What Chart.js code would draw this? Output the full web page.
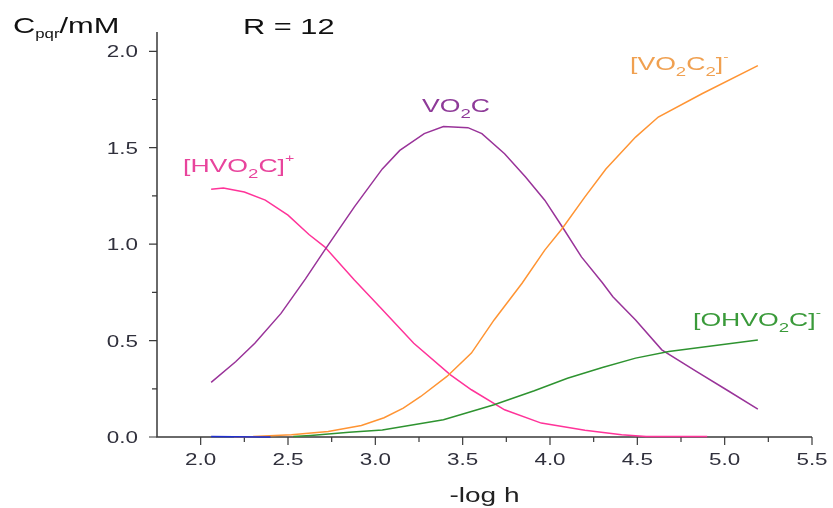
<!DOCTYPE html>
<html>
<head>
<meta charset="utf-8">
<script src="https://cdn.jsdelivr.net/npm/chart.js@4"></script>
<style>
  html, body { margin: 0; padding: 0; background: #fff; }
  #wrap { width: 833px; height: 508px; }
</style>
</head>
<body>
<div id="wrap"><canvas id="myChart" width="833" height="508"></canvas></div>
<script>
// species distribution (x = -log h, y = C / mM)
const hvoX = [2.06, 2.13, 2.25, 2.37, 2.5, 2.62, 2.71, 2.88, 3.03, 3.22, 3.43, 3.55, 3.74, 3.95, 4.2, 4.41, 4.55, 4.9];
const hvoY = [1.285, 1.291, 1.27, 1.228, 1.15, 1.05, 0.986, 0.814, 0.67, 0.486, 0.322, 0.245, 0.141, 0.072, 0.035, 0.012, 0.003, 0.002];

const vocX = [2.06, 2.2, 2.31, 2.46, 2.6, 2.71, 2.88, 3.04, 3.14, 3.28, 3.39, 3.53, 3.61, 3.74, 3.86, 3.97, 4.07, 4.18, 4.30, 4.36, 4.49, 4.64, 4.84, 5.01, 5.19];
const vocY = [0.283, 0.39, 0.486, 0.641, 0.82, 0.969, 1.193, 1.39, 1.486, 1.573, 1.61, 1.604, 1.573, 1.469, 1.348, 1.228, 1.09, 0.934, 0.80, 0.727, 0.607, 0.452, 0.339, 0.245, 0.145];

const voc2X = [2.19, 2.3, 2.52, 2.73, 2.92, 3.05, 3.16, 3.26, 3.41, 3.55, 3.68, 3.84, 3.97, 4.07, 4.2, 4.32, 4.49, 4.62, 4.87, 5.19];
const voc2Y = [0.001, 0.002, 0.012, 0.029, 0.06, 0.10, 0.15, 0.21, 0.314, 0.435, 0.607, 0.797, 0.969, 1.081, 1.245, 1.39, 1.555, 1.659, 1.78, 1.926];

const ohX = [2.53, 2.63, 2.85, 3.04, 3.39, 3.68, 3.91, 4.1, 4.3, 4.49, 4.68, 5.19];
const ohY = [0.002, 0.008, 0.025, 0.036, 0.089, 0.167, 0.240, 0.305, 0.36, 0.409, 0.443, 0.503];

const blueX = [2.06, 2.19, 2.4];
const blueY = [0.002, 0.001, 0.0];

const xTicks = [2.0, 2.5, 3.0, 3.5, 4.0, 4.5, 5.0, 5.5];
const xMinor = [2.25, 2.75, 3.25, 3.75, 4.25, 4.75, 5.25];
const yTicks = [0.0, 0.5, 1.0, 1.5, 2.0];
const yMinor = [0.25, 0.75, 1.25, 1.75];

const FONT = '"Liberation Sans", Arial, sans-serif';
const SX = 1.4; // the reference text is stretched sideways

function pts(xs, ys) {
    return xs.map((x, i) => ({ x: x, y: ys[i] }));
}

// draws text made of normal / sub ('b') / super ('p') pieces
function richText(ctx, parts, x, y, size, color, opts) {
    opts = opts || {};
    const small = opts.small || size * 0.7;
    const subDy = opts.subDy !== undefined ? opts.subDy : size * 0.32;
    const supDy = opts.supDy !== undefined ? opts.supDy : -size * 0.55;
    const fontOf = k => (k === 'n' ? size : (k === 'p' ? size * 0.6 : small)) + 'px ' + FONT;
    ctx.save();
    ctx.fillStyle = color;
    ctx.textBaseline = 'alphabetic';
    ctx.textAlign = 'left';
    let w = 0;
    parts.forEach(([t, k]) => { ctx.font = fontOf(k); w += ctx.measureText(t).width; });
    let cx = 0;
    if (opts.align === 'center') cx = -w / 2;
    if (opts.align === 'right') cx = -w;
    ctx.translate(x, y);
    ctx.scale(SX, 1);
    parts.forEach(([t, k]) => {
        ctx.font = fontOf(k);
        const dy = k === 'b' ? subDy : (k === 'p' ? supDy : 0);
        ctx.fillText(t, cx, dy);
        cx += ctx.measureText(t).width;
    });
    ctx.restore();
}

const axisPlugin = {
    id: 'axisPlugin',
    beforeDatasetsDraw(chart) {
        const ctx = chart.ctx;
        const a = chart.chartArea;
        const xs = chart.scales.x, ys = chart.scales.y;
        ctx.save();
        ctx.strokeStyle = '#3a3a3a';
        ctx.lineWidth = 1.5;
        ctx.beginPath();
        ctx.moveTo(a.left, a.top);
        ctx.lineTo(a.left, a.bottom);
        ctx.lineTo(a.right, a.bottom);
        ctx.stroke();
        ctx.lineWidth = 1.2;
        ctx.beginPath();
        xTicks.forEach(v => { const p = xs.getPixelForValue(v); ctx.moveTo(p, a.bottom); ctx.lineTo(p, a.bottom + 8); });
        xMinor.forEach(v => { const p = xs.getPixelForValue(v); ctx.moveTo(p, a.bottom); ctx.lineTo(p, a.bottom + 5); });
        yTicks.forEach(v => { const p = ys.getPixelForValue(v); ctx.moveTo(a.left, p); ctx.lineTo(a.left - 8, p); });
        yMinor.forEach(v => { const p = ys.getPixelForValue(v); ctx.moveTo(a.left, p); ctx.lineTo(a.left - 5, p); });
        ctx.stroke();
        ctx.restore();

        xTicks.forEach(v => richText(ctx, [[v.toFixed(1), 'n']], xs.getPixelForValue(v), 465, 16, '#30303c', { align: 'center' }));
        yTicks.forEach(v => richText(ctx, [[v.toFixed(1), 'n']], 138, ys.getPixelForValue(v) + 6, 16, '#30303c', { align: 'right' }));
        richText(ctx, [['-log h', 'n']], (a.left + a.right) / 2, 502, 20, '#222', { align: 'center' });
    },
    afterDraw(chart) {
        const ctx = chart.ctx;
        richText(ctx, [['C', 'n'], ['pqr', 'b'], ['/mM', 'n']], 13, 33, 22, '#111', { small: 12, subDy: 5 });
        richText(ctx, [['R = 12', 'n']], 243, 34, 22, '#111');
        richText(ctx, [['[HVO', 'n'], ['2', 'b'], ['C]', 'n'], ['+', 'p']], 183, 172, 19, '#e8449c');
        richText(ctx, [['VO', 'n'], ['2', 'b'], ['C', 'n']], 422, 112, 19, '#8e3a98');
        richText(ctx, [['[VO', 'n'], ['2', 'b'], ['C', 'n'], ['2', 'b'], [']', 'n'], ['-', 'p']], 630, 70, 19, '#f0a050');
        richText(ctx, [['[OHVO', 'n'], ['2', 'b'], ['C]', 'n'], ['-', 'p']], 693, 326, 19, '#3a9a3a');
    }
};

function line(data, color) {
    return {
        data: data,
        borderColor: color,
        borderWidth: 1.5,
        pointRadius: 0,
        tension: 0,
        fill: false,
        clip: false
    };
}

const ctx = document.getElementById('myChart').getContext('2d');
const myChart = new Chart(ctx, {
    type: 'line',
    data: {
        datasets: [
            line(pts(blueX, blueY), '#1f2fd0'),
            line(pts(voc2X, voc2Y), '#ff9433'),
            line(pts(ohX, ohY), '#2e9330'),
            line(pts(vocX, vocY), '#993399'),
            line(pts(hvoX, hvoY), '#ff3399')
        ]
    },
    options: {
        responsive: false,
        animation: false,
        layout: { padding: { left: 0, top: 32, right: 21, bottom: 0 } },
        scales: {
            x: {
                type: 'linear',
                min: 1.75,
                max: 5.5,
                ticks: { display: false },
                grid: { display: false },
                border: { display: false },
                afterFit: scale => { scale.height = 71; }
            },
            y: {
                min: 0,
                max: 2.1,
                ticks: { display: false },
                grid: { display: false },
                border: { display: false },
                afterFit: scale => { scale.width = 157; }
            }
        },
        plugins: {
            legend: { display: false },
            tooltip: { enabled: false }
        },
        events: []
    },
    plugins: [axisPlugin]
});
</script>
</body>
</html>
